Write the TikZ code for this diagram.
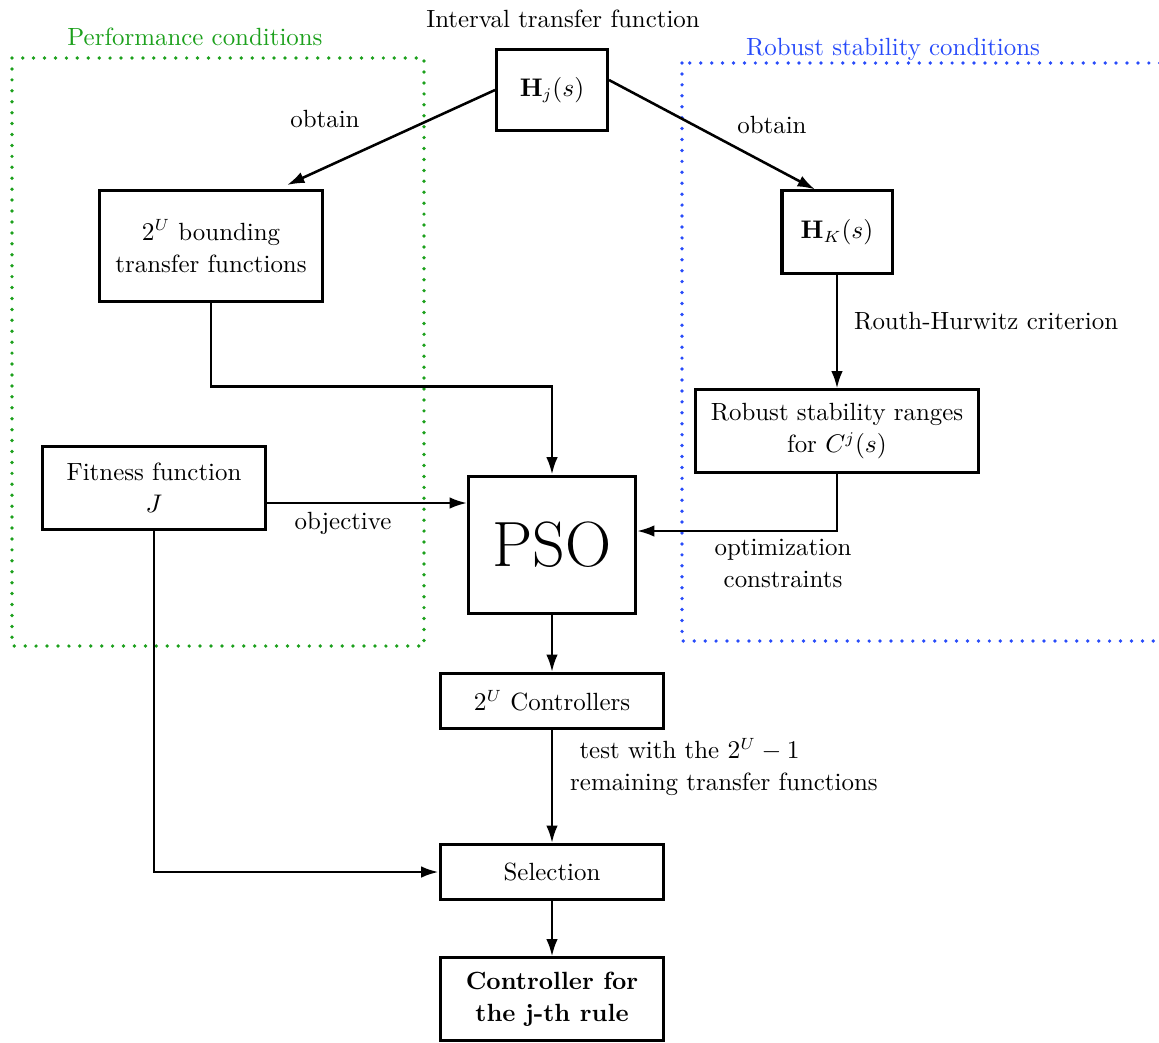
\documentclass[tikz,border=0pt]{standalone}
\usepackage{amsmath}
\usepackage{amssymb}
\usetikzlibrary{calc,arrows.meta}
\definecolor{perfgreen}{RGB}{28,160,28}
\definecolor{robblue}{RGB}{40,75,250}
\begin{document}
\begin{tikzpicture}[x=0.43pt,y=-0.43pt]
\tikzstyle{every node}=[font=\fontsize{10.7}{13.8}\selectfont]
\tikzstyle{block}=[draw, line width=1.3pt, align=center, inner sep=2pt]
\tikzstyle{arr}=[-{Latex[length=7.5pt,width=5pt]}, line width=1.1pt]
\tikzstyle{dots}=[line width=1.6pt, line cap=round, dash pattern=on 0pt off 4.7pt]
\useasboundingbox (0,0) rectangle (1159,1042);
% condition regions
\draw [dots, perfgreen] (12,58) rectangle (424,646);
\draw [dots, robblue] (682,63) rectangle (1190,641);
\node [perfgreen] (perf) at (195,37) {Performance conditions};
\node [robblue] (rob) at (893,49) {Robust stability conditions};
% blocks
\node (title) at (563,19) {Interval transfer function};
\node [block, minimum width=47.7pt, minimum height=34.8pt] (Hj) at (552,90) {$\mathbf{H}_j(s)$};
\node [block, minimum width=96.3pt, minimum height=47.7pt] (bound) at (211,246) {$2^U$ bounding\\ transfer functions};
\node [block, minimum width=47.3pt, minimum height=35.3pt] (HK) at (837,232) {$\mathbf{H}_K(s)$};
\node [block, minimum width=121.3pt, minimum height=35.3pt] (ranges) at (837,431) {Robust stability ranges\\ for $C^j(s)$};
\node [block, minimum width=96.3pt, minimum height=35.3pt] (fit) at (154,488) {Fitness function\\ $J$};
\node [block, minimum width=71.8pt, minimum height=59.3pt, font=\fontsize{27.5}{33}\selectfont] (pso) at (552,545) {PSO};
\node [block, minimum width=96.3pt, minimum height=23.7pt] (ctrl) at (552,701) {$2^U$ Controllers};
\node [block, minimum width=96.3pt, minimum height=23.7pt] (sel) at (552,872) {Selection};
\node [block, minimum width=96.3pt, minimum height=35.3pt, font=\fontsize{10.7}{13.8}\selectfont\bfseries] (final) at (552,999) {Controller for\\ the j-th rule};
% labels
\node (obtL) at (325,119) {obtain};
\node (obtR) at (772,125) {obtain};
\node [anchor=west] (routh) at (846,321) {Routh-Hurwitz criterion};
\node (obj) at (343,523) {objective};
\node [align=center] (constr) at (783,563) {optimization\\ constraints};
\node [anchor=west, align=left] (test) at (562,767) {\hspace*{4pt}test with the $2^U-1$\\ remaining transfer functions};
% connectors
\draw [arr] (Hj.west) -- ($(bound.north)+(76,-4)$);
\draw [arr] ($(Hj.east)+(0,-10)$) -- ($(HK.north)+(-22,0)$);
\draw [arr] (bound.south) |- ($(pso.north)+(0,-88)$) -- (pso.north);
\draw [arr] (HK) -- (ranges);
\draw [arr] (ranges.south) |- ($(pso.east)+(0,-14)$);
\coordinate (objin) at ($(fit.east)+(0,15)$);
\draw [arr] (objin) -- (objin -| pso.west);
\draw [arr] (fit.south) |- (sel.west);
\draw [arr] (pso) -- (ctrl);
\draw [arr] (ctrl) -- (sel);
\draw [arr] (sel) -- (final);
\end{tikzpicture}
\end{document}
